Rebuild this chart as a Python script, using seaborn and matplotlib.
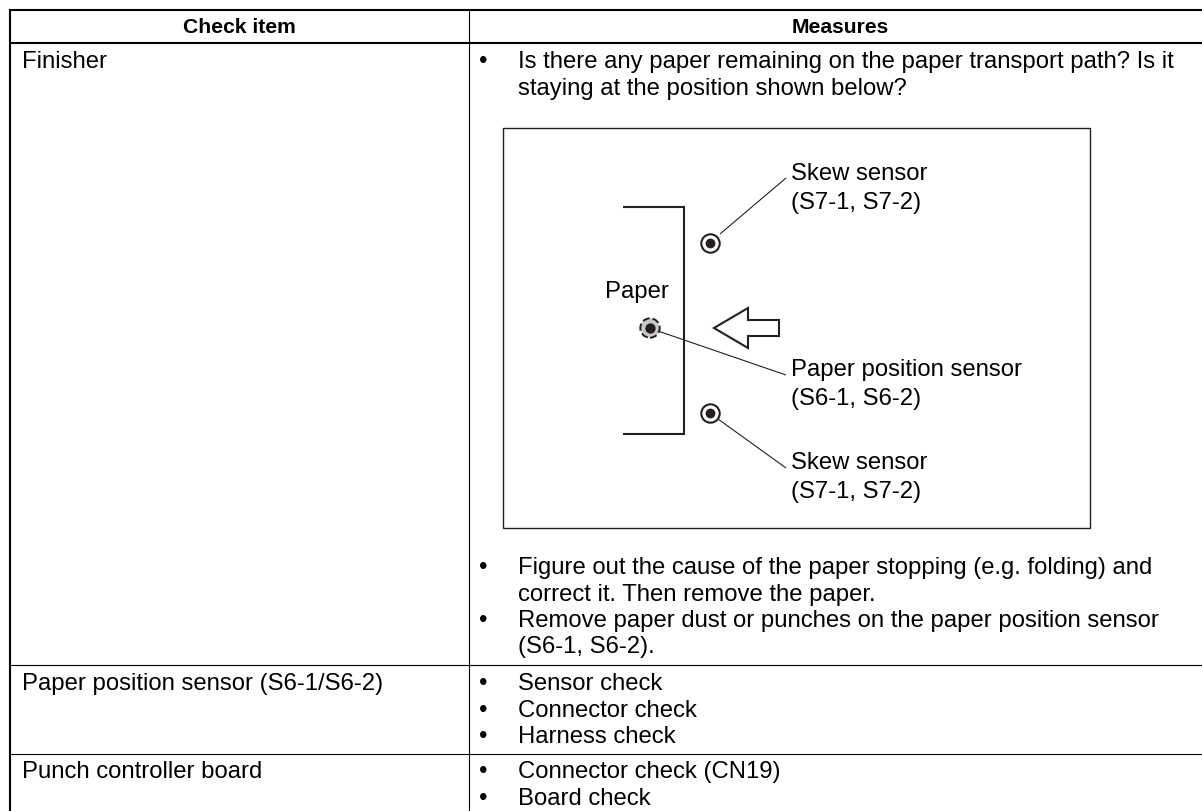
import numpy as np
import pandas as pd
import matplotlib
matplotlib.use('Agg')
import matplotlib.pyplot as plt
from matplotlib.patches import Polygon, Rectangle
import seaborn as sns

headers = ['Check item', 'Measures']
check_items = ['Finisher', 'Paper position sensor (S6-1/S6-2)', 'Punch controller board']
top_lines = ['Is there any paper remaining on the paper transport path? Is it',
             'staying at the position shown below?']
finisher_lines = ['Figure out the cause of the paper stopping (e.g. folding) and',
                  'correct it. Then remove the paper.',
                  'Remove paper dust or punches on the paper position sensor',
                  '(S6-1, S6-2).']
sensor_lines = ['Sensor check', 'Connector check', 'Harness check']
board_lines = ['Connector check (CN19)', 'Board check']
skew_label = ['Skew sensor', '(S7-1, S7-2)']
position_label = ['Paper position sensor', '(S6-1, S6-2)']

sns.set_theme(style='white')
plt.rcParams['font.family'] = ['Liberation Sans', 'DejaVu Sans']

fig = plt.figure(figsize=(12.02, 8.12), dpi=100)
ax = fig.add_axes([0, 0, 1, 1])
ax.set_xlim(0, 1202)
ax.set_ylim(812, 0)
ax.axis('off')

ink = '#231f20'
fs = 17.2
col_x = 469


def rule(xs, ys, lw=0.8, color='black'):
    sns.lineplot(x=xs, y=ys, ax=ax, sort=False, estimator=None, color=color,
                 lw=lw, legend=False, solid_capstyle='butt', solid_joinstyle='miter')


def text(x, y, s, **kw):
    ax.text(x, y, s, fontsize=kw.pop('fontsize', fs), va='baseline', color='black', **kw)


# table frame, the right and bottom edges are cut off in the original
rule([10, 10], [10, 812], lw=1.5)
rule([9, 1202], [11, 11], lw=1.5)
rule([10, 1202], [43.5, 43.5], lw=1.5)
rule([col_x, col_x], [11, 812])
rule([10, 1202], [666, 666])
rule([10, 1202], [755, 755])

text((10 + col_x) / 2, 33, headers[0], ha='center', fontweight='bold', fontsize=15.2)
text(840, 33, headers[1], ha='center', fontweight='bold', fontsize=15.2)

for y, s in zip([67.5, 690, 778], check_items):
    text(21.5, y, s)


def bullets(lines, ys, marks):
    for y, s in zip(ys, lines):
        text(518, y, s)
    for y in marks:
        text(479, y, '•')


bullets(top_lines, [68, 95], [68])
bullets(finisher_lines, [574, 601, 627, 653], [574, 627])
bullets(sensor_lines, [690, 717, 743], [690, 717, 743])
bullets(board_lines, [778, 805], [778, 805])

# diagram
ax.add_patch(Rectangle((503, 128.5), 586.5, 400.5, fill=False, ec=ink, lw=1.0))
rule([623, 683.5, 683.5, 623], [208, 208, 435, 435], lw=1.5, color=ink)

rule([720, 786], [235, 179], lw=0.8, color=ink)
rule([658, 786], [332, 376], lw=0.8, color=ink)
rule([718, 786], [420, 469], lw=0.8, color=ink)

sns.scatterplot(x=[710, 710], y=[244, 414], ax=ax, s=175, facecolor='white',
                edgecolor=ink, linewidth=1.5, legend=False, zorder=3)
sns.scatterplot(x=[710, 710], y=[244, 414], ax=ax, s=50, color=ink, linewidth=0,
                legend=False, zorder=4)
sns.scatterplot(x=[650], y=[329], ax=ax, s=195, color='#c8c8c8', edgecolor=ink,
                linewidth=1.4, linestyle='--', legend=False, zorder=3)
sns.scatterplot(x=[650], y=[329], ax=ax, s=55, color=ink, linewidth=0, legend=False, zorder=4)

ax.add_patch(Polygon([[714, 329], [748, 309], [748, 321], [779, 321], [779, 337], [748, 337], [748, 349]],
                     closed=True, fc='white', ec=ink, lw=1.5, zorder=3))

text(605, 298, 'Paper')
for y, lines in [(180, skew_label), (376.5, position_label), (469, skew_label)]:
    text(791, y, lines[0])
    text(791, y + 29, lines[1])

fig.savefig('out.png', dpi=100, facecolor='white')
